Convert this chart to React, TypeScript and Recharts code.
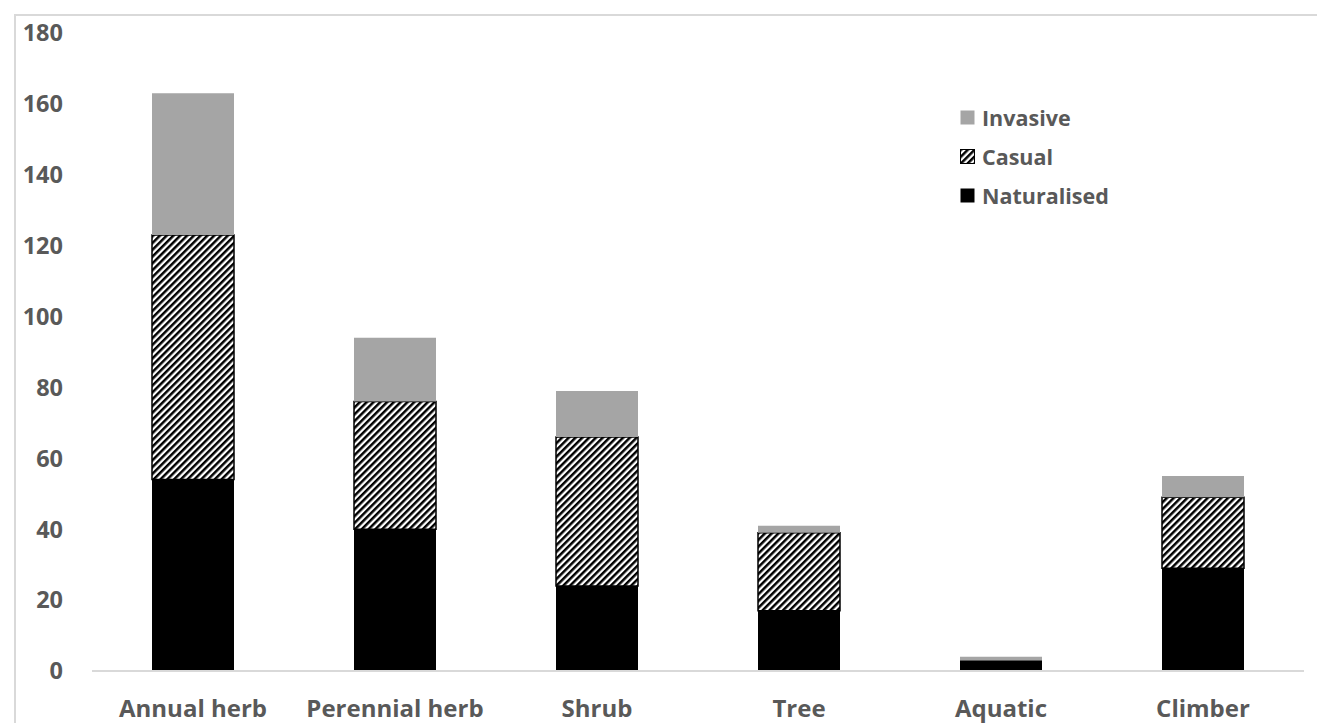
import React from 'react';
import { BarChart, Bar, XAxis, YAxis } from 'recharts';

const categories = ['Annual herb', 'Perennial herb', 'Shrub', 'Tree', 'Aquatic', 'Climber'];
const naturalised = [54, 40, 24, 17, 3, 29];
const casual = [69, 36, 42, 22, 0, 20];
const invasive = [40, 18, 13, 2, 1, 6];
const yTicks = [0, 20, 40, 60, 80, 100, 120, 140, 160, 180];

const data = categories.map((name, i) => ({
  name,
  naturalised: naturalised[i],
  casual: casual[i],
  invasive: invasive[i],
}));

const FONT = '"Open Sans", Lato, sans-serif';
const TEXT = '#595959';

const legendItems = [
  { label: 'Invasive', fill: '#a5a5a5' },
  { label: 'Casual', fill: 'url(#lg-stripes)' },
  { label: 'Naturalised', fill: '#000000' },
];

// diagonal hatch used for the "Casual" segments
const Stripes = ({ id }: { id: string }) => (
  <pattern id={id} patternUnits="userSpaceOnUse" width={4.8} height={4.8} patternTransform="rotate(45)">
    <rect width={4.8} height={4.8} fill="#fff" />
    <rect width={2.5} height={4.8} fill="#000" />
  </pattern>
);

const StatusLegend = () => (
  <div style={{ position: 'absolute', left: 960, top: 98, fontFamily: FONT, fontWeight: 700, fontSize: 21.5, color: TEXT }}>
    <svg width={0} height={0} style={{ position: 'absolute' }}>
      <defs>
        <Stripes id="lg-stripes" />
      </defs>
    </svg>
    {legendItems.map(item => (
      <div key={item.label} style={{ display: 'flex', alignItems: 'center', height: 39 }}>
        <svg width={15} height={15} style={{ marginRight: 7 }}>
          <rect
            x={0.5}
            y={0.5}
            width={14}
            height={14}
            fill={item.fill}
            stroke={item.label === 'Casual' ? '#000' : 'none'}
          />
        </svg>
        <span>{item.label}</span>
      </div>
    ))}
  </div>
);

export default function App() {
  return (
    <div style={{ position: 'absolute', left: 0, top: 0, width: 1317, height: 723, background: '#fff', overflow: 'hidden' }}>
      {/* chart frame, only top and left edges fall inside the view */}
      <div
        style={{
          position: 'absolute',
          left: 14,
          top: 14,
          width: 1400,
          height: 800,
          borderTop: '2px solid #d9d9d9',
          borderLeft: '2px solid #d9d9d9',
        }}
      />
      <div style={{ position: 'absolute', left: 0, top: 0 }}>
        <BarChart width={1317} height={723} data={data} margin={{ top: 33, right: 13, bottom: 0, left: 32 }} barSize={82}>
          <defs>
            <Stripes id="stripes" />
          </defs>
          <XAxis
            dataKey="name"
            axisLine={{ stroke: '#d9d9d9', strokeWidth: 2 }}
            tickLine={false}
            tickSize={0}
            tickMargin={29}
            height={52}
            interval={0}
            tick={{ fill: TEXT, fontFamily: FONT, fontWeight: 700, fontSize: 24 }}
          />
          <YAxis
            width={60}
            domain={[0, 180]}
            ticks={yTicks}
            axisLine={false}
            tickLine={false}
            tickSize={0}
            tickMargin={29}
            interval={0}
            tick={{ fill: TEXT, fontFamily: FONT, fontWeight: 700, fontSize: 23.5 }}
          />
          <Bar dataKey="naturalised" stackId="s" fill="#000000" isAnimationActive={false} />
          <Bar dataKey="casual" stackId="s" fill="url(#stripes)" stroke="#000" strokeWidth={1.5} isAnimationActive={false} />
          <Bar dataKey="invasive" stackId="s" fill="#a5a5a5" isAnimationActive={false} />
        </BarChart>
      </div>
      <StatusLegend />
    </div>
  );
}
